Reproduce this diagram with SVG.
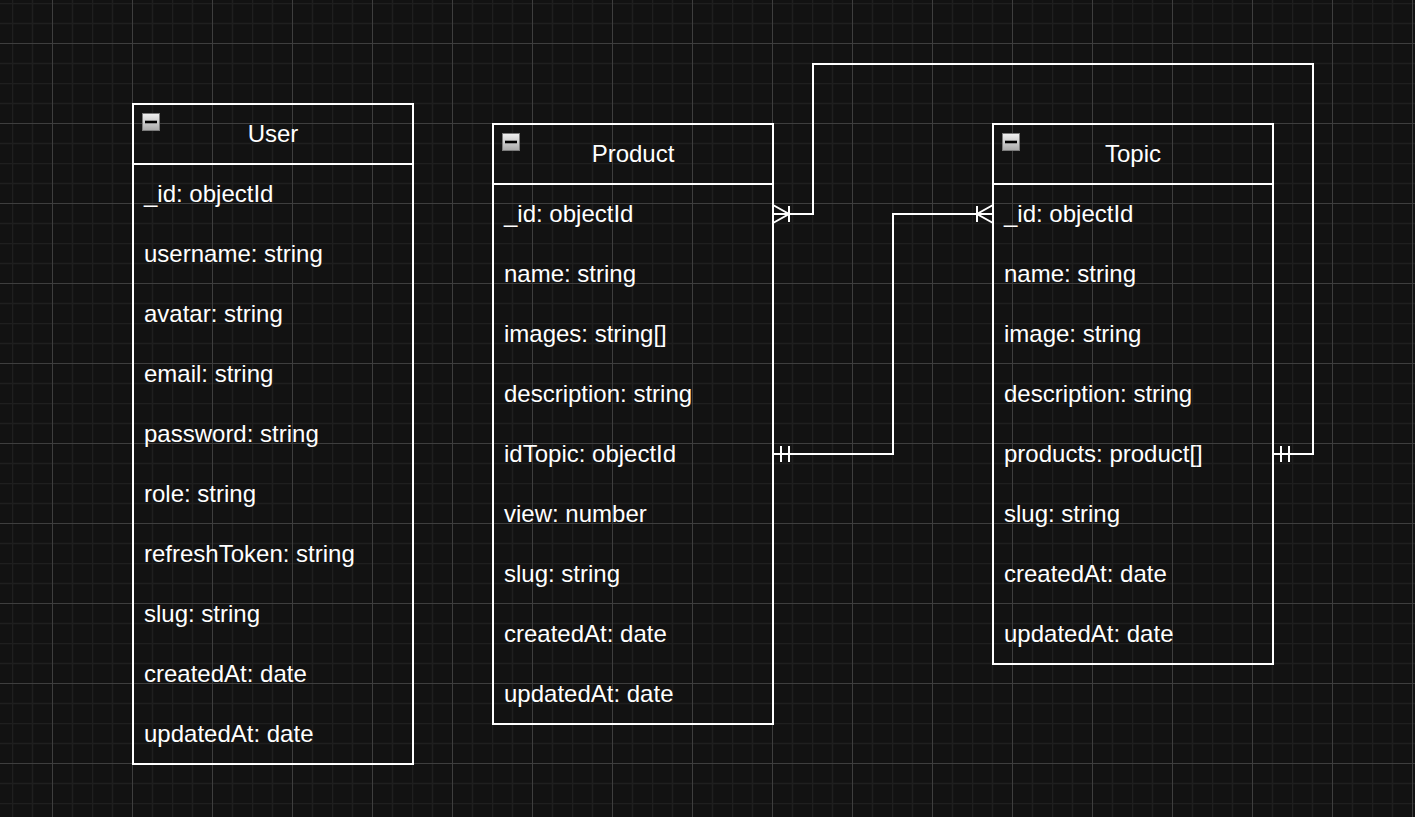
<svg xmlns="http://www.w3.org/2000/svg" width="1415" height="817" viewBox="0 0 1415 817">
<style>
.box{fill:none;stroke:#ffffff;stroke-width:2}
.sep{stroke:#ffffff;stroke-width:2}
.title{font-family:"Liberation Sans",Arial,Helvetica,sans-serif;font-size:24px;fill:#ffffff;text-anchor:middle}
.row{font-family:"Liberation Sans",Arial,Helvetica,sans-serif;font-size:24px;fill:#ffffff}
.edge{fill:none;stroke:#ffffff;stroke-width:2}
.mk{fill:none;stroke:#ffffff;stroke-width:2}
</style>
<defs>
<pattern id="grid" x="12" y="3" width="80" height="80" patternUnits="userSpaceOnUse">
<path d="M0.5 0V80M20.5 0V80M60.5 0V80M0 0.5H80M0 20.5H80M0 60.5H80" stroke="#1f1f1f" stroke-width="1.5" fill="none"/>
<path d="M40.5 0V80M0 40.5H80" stroke="#3e3e3e" stroke-width="1" fill="none"/>
</pattern>
<linearGradient id="ig" x1="0" y1="0" x2="0" y2="1">
<stop offset="0" stop-color="#f2f2f2"/>
<stop offset="1" stop-color="#a8a8a8"/>
</linearGradient>
<g id="collapse">
<rect x="0.5" y="0.5" width="17" height="17" fill="url(#ig)" stroke="#7c7c7c" stroke-width="1"/>
<rect x="3" y="7.7" width="12" height="2.6" fill="#000000"/>
</g>
<marker id="oneToMany" viewBox="-20 -11 22 22" refX="0" refY="0" markerWidth="22" markerHeight="22" markerUnits="userSpaceOnUse" orient="auto-start-reverse">
<path class="mk" d="M0 -9L-16 0L0 9M-16 -8V8"/>
</marker>
<marker id="mandOne" viewBox="-20 -11 22 22" refX="0" refY="0" markerWidth="22" markerHeight="22" markerUnits="userSpaceOnUse" orient="auto-start-reverse">
<path class="mk" d="M-8 -8V8M-16 -8V8"/>
</marker>
</defs>
<rect width="1415" height="817" fill="#121212"/>
<rect width="1415" height="817" fill="url(#grid)"/>

<g id="connectors">
<path id="edge-product-topic" class="edge" d="M773 214H813V64H1313V454H1273" marker-start="url(#oneToMany)" marker-end="url(#mandOne)"/>
<path id="edge-topic-product" class="edge" d="M993 214H893V454H773" marker-start="url(#oneToMany)" marker-end="url(#mandOne)"/>
</g>

<g id="user">
<rect class="box" x="133" y="104" width="280" height="660"/>
<line class="sep" x1="133" y1="164" x2="413" y2="164"/>
<use href="#collapse" x="142" y="113"/>
<text class="title" x="273" y="141.5">User</text>
<text class="row" x="144" y="201.5">_id: objectId</text>
<text class="row" x="144" y="261.5">username: string</text>
<text class="row" x="144" y="321.5">avatar: string</text>
<text class="row" x="144" y="381.5">email: string</text>
<text class="row" x="144" y="441.5">password: string</text>
<text class="row" x="144" y="501.5">role: string</text>
<text class="row" x="144" y="561.5">refreshToken: string</text>
<text class="row" x="144" y="621.5">slug: string</text>
<text class="row" x="144" y="681.5">createdAt: date</text>
<text class="row" x="144" y="741.5">updatedAt: date</text>
</g>

<g id="product">
<rect class="box" x="493" y="124" width="280" height="600"/>
<line class="sep" x1="493" y1="184" x2="773" y2="184"/>
<use href="#collapse" x="502" y="133"/>
<text class="title" x="633" y="161.5">Product</text>
<text class="row" x="504" y="221.5">_id: objectId</text>
<text class="row" x="504" y="281.5">name: string</text>
<text class="row" x="504" y="341.5">images: string[]</text>
<text class="row" x="504" y="401.5">description: string</text>
<text class="row" x="504" y="461.5">idTopic: objectId</text>
<text class="row" x="504" y="521.5">view: number</text>
<text class="row" x="504" y="581.5">slug: string</text>
<text class="row" x="504" y="641.5">createdAt: date</text>
<text class="row" x="504" y="701.5">updatedAt: date</text>
</g>

<g id="topic">
<rect class="box" x="993" y="124" width="280" height="540"/>
<line class="sep" x1="993" y1="184" x2="1273" y2="184"/>
<use href="#collapse" x="1002" y="133"/>
<text class="title" x="1133" y="161.5">Topic</text>
<text class="row" x="1004" y="221.5">_id: objectId</text>
<text class="row" x="1004" y="281.5">name: string</text>
<text class="row" x="1004" y="341.5">image: string</text>
<text class="row" x="1004" y="401.5">description: string</text>
<text class="row" x="1004" y="461.5">products: product[]</text>
<text class="row" x="1004" y="521.5">slug: string</text>
<text class="row" x="1004" y="581.5">createdAt: date</text>
<text class="row" x="1004" y="641.5">updatedAt: date</text>
</g>
</svg>
